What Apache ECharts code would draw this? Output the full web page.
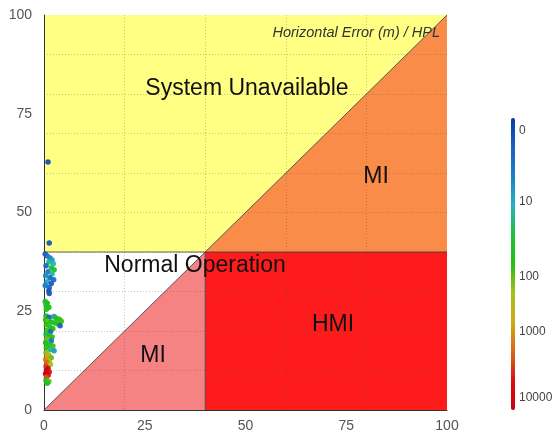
<!DOCTYPE html>
<html><head><meta charset="utf-8">
<script src="https://cdn.jsdelivr.net/npm/echarts@6/dist/echarts.min.js"></script>
<style>html,body{margin:0;padding:0;background:#fff}#c{width:555px;height:436px}</style>
</head><body><div id="c"></div>
<script>
// ---- data ----
const alertLimit = 40;
const axisMax = 100;
const xTickLabels = ['0','25','50','75','100'];
const colorbarLabels = ['0','10','100','1000','10000'];
// horizontal position error (m)
const hpe = [1.0,1.3,
 0.3,0.8,1.5,2.0,1.2,2.3,0.5,1.8,2.5,1.0,2.0,0.4,1.5,2.4,0.8,1.8,0.3,1.3,1.2,1.3,
 0.3,0.8,0.5,1.2,0.6,
 0.5,1.3,2.5,3.0,3.8,4.3,0.4,1.0,1.8,2.7,3.5,4.0,0.6,1.5,2.2,0.8,1.6,
 0.5,1.2,2.0,0.7,1.8,0.4,1.3,2.2,0.6,1.5,2.5,
 0.5,1.2,0.8,1.8,0.4,1.3,0.7,1.6,
 0.5,1.0,0.6,1.3,0.4,1.0,0.6,
 0.5,1.2,0.8];
// horizontal protection level (m)
const hpl = [62.8,42.3,
 39.5,39.0,38.5,38.0,37.5,37.0,36.5,36.0,35.5,35.0,34.5,34.0,33.5,33.0,32.5,32.0,31.5,31.0,30.2,29.5,
 27.5,27.0,26.5,26.0,25.5,
 23.8,23.5,23.7,23.2,23.0,22.5,22.8,22.5,22.3,22.0,21.8,21.3,21.6,21.0,20.6,20.2,19.8,
 19.2,18.8,18.5,18.0,17.5,17.0,16.6,16.2,15.8,15.3,15.0,
 14.5,14.0,13.5,13.2,12.8,12.3,12.0,11.5,
 11.0,10.5,10.0,9.6,9.2,8.8,8.3,
 7.5,7.2,6.8];
// epoch count, as colour-bar level (0 -> "0", 1 -> "10", 2 -> "100", 3 -> "1000", 4 -> "10000")
const countLevel = [0.2,0.3,
 0.4,0.6,0.8,1.0,1.4,1.2,0.5,1.6,1.8,0.7,1.3,0.9,0.5,0.6,1.1,0.4,0.8,0.5,0.3,0.3,
 1.8,2.0,1.6,2.0,1.9,
 1.8,0.4,1.0,2.0,1.9,2.1,2.0,2.2,2.0,1.8,2.0,0.4,2.0,1.7,2.0,2.1,0.5,
 1.5,2.0,1.8,2.2,0.6,2.0,1.8,2.1,1.9,1.4,1.0,
 2.3,2.5,2.8,2.2,3.0,2.6,3.2,2.4,
 3.4,3.8,3.9,3.6,4.0,3.7,3.3,
 2.0,2.2,1.8];

const points = hpe.map((v,i)=>[v,hpl[i],countLevel[i]]);
const A = alertLimit, M = axisMax;
const regions = [
  {pts:[[0,A],[A,A],[M,M],[0,M]], color:'#ffff84'},
  {pts:[[A,A],[M,A],[M,M]], color:'#f98c48'},
  {pts:[[A,0],[M,0],[M,A],[A,A]], color:'#fe1b1b'},
  {pts:[[0,0],[A,0],[A,A]], color:'#f58383'}
];
const boundaries = [
  [[0,0],[M,M]],
  [[0,A],[M,A]],
  [[A,0],[A,A]]
];

const FONT = 'Liberation Sans, Arial, sans-serif';
const chart = echarts.init(document.getElementById('c'), null, {renderer:'canvas'});
const gridBox = {left:44, top:15, right:108, bottom:26};
const gridLineStyle = {type:[1,2], color:'rgba(70,70,70,0.3)', width:1};

const option = {
  animation:false,
  backgroundColor:'#fff',
  grid: gridBox,
  xAxis:[
    {type:'value', min:0, max:M, interval:25, z:6,
     axisLine:{show:true, onZero:false, lineStyle:{color:'#333', width:1}},
     axisTick:{show:false}, splitLine:{show:false},
     axisLabel:{color:'#555', fontSize:14, margin:9, fontFamily:FONT,
       formatter:(v)=>xTickLabels[Math.round(v/25)]}},
    {type:'value', min:0, max:M, interval:20, position:'bottom', z:4,
     axisLine:{show:false}, axisTick:{show:false}, axisLabel:{show:false},
     splitLine:{show:true, showMinLine:false, showMaxLine:false, lineStyle:gridLineStyle}}
  ],
  yAxis:[
    {type:'value', min:0, max:M, interval:25, z:6,
     axisLine:{show:true, onZero:false, lineStyle:{color:'#333', width:1}},
     axisTick:{show:false}, splitLine:{show:false},
     axisLabel:{color:'#555', fontSize:14, margin:12, fontFamily:FONT}},
    {type:'value', min:0, max:M, interval:10, position:'left', z:4,
     axisLine:{show:false}, axisTick:{show:false}, axisLabel:{show:false},
     splitLine:{show:true, showMinLine:false, showMaxLine:false, lineStyle:gridLineStyle}}
  ],
  visualMap:{
    type:'continuous', min:0, max:4, dimension:2, seriesIndex:1,
    orient:'vertical', inverse:true, calculable:false, realtime:false,
    left:506, top:113, itemWidth:4, itemHeight:292, padding:5,
    text:['',''], showLabel:false,
    inRange:{color:['#0b3ea8','#1b60c0','#1b80c8','#22b4c0','#1cc03a','#22c010','#a8c018','#d0a818','#d86818','#d81010','#c80010']}
  },
  series:[
    {type:'custom', z:1, silent:true, clip:false,
     xAxisIndex:0, yAxisIndex:0,
     data:[[0,0]],
     renderItem:(params, api)=>{
       const children = regions.map(r=>({
         type:'polygon', shape:{points:r.pts.map(p=>api.coord(p))},
         style:{fill:r.color, stroke:null}
       }));
       boundaries.forEach(b=>{
         const p1 = api.coord(b[0]), p2 = api.coord(b[1]);
         children.push({type:'line', shape:{x1:p1[0],y1:p1[1],x2:p2[0],y2:p2[1]},
           style:{stroke:'#3a3a3a', lineWidth:0.8}});
       });
       return {type:'group', children};
     }},
    {type:'scatter', z:8, xAxisIndex:0, yAxisIndex:0,
     symbol:'circle', symbolSize:5.5, data:points,
     itemStyle:{opacity:0.95}}
  ],
  graphic:[
    {type:'text', x:247, y:89, z:20, style:{text:'System Unavailable', font:'23px '+FONT, fill:'#111', align:'center', verticalAlign:'middle'}},
    {type:'text', x:376, y:177, z:20, style:{text:'MI', font:'23px '+FONT, fill:'#111', align:'center', verticalAlign:'middle'}},
    {type:'text', x:195, y:266, z:20, style:{text:'Normal Operation', font:'23px '+FONT, fill:'#111', align:'center', verticalAlign:'middle'}},
    {type:'text', x:333, y:325, z:20, style:{text:'HMI', font:'23px '+FONT, fill:'#111', align:'center', verticalAlign:'middle'}},
    {type:'text', x:153, y:356, z:20, style:{text:'MI', font:'23px '+FONT, fill:'#111', align:'center', verticalAlign:'middle'}},
    {type:'text', x:440, y:33, z:20, style:{text:'Horizontal Error (m) / HPL', font:'italic 14.5px '+FONT, fill:'#333', align:'right', verticalAlign:'middle'}}
  ].concat(colorbarLabels.map((t,i)=>({
    type:'text', x:519, y:[131,202,277,332,398][i], z:20,
    style:{text:t, font:'12px '+FONT, fill:'#444', align:'left', verticalAlign:'middle'}
  })))
};
chart.setOption(option);
</script></body></html>
